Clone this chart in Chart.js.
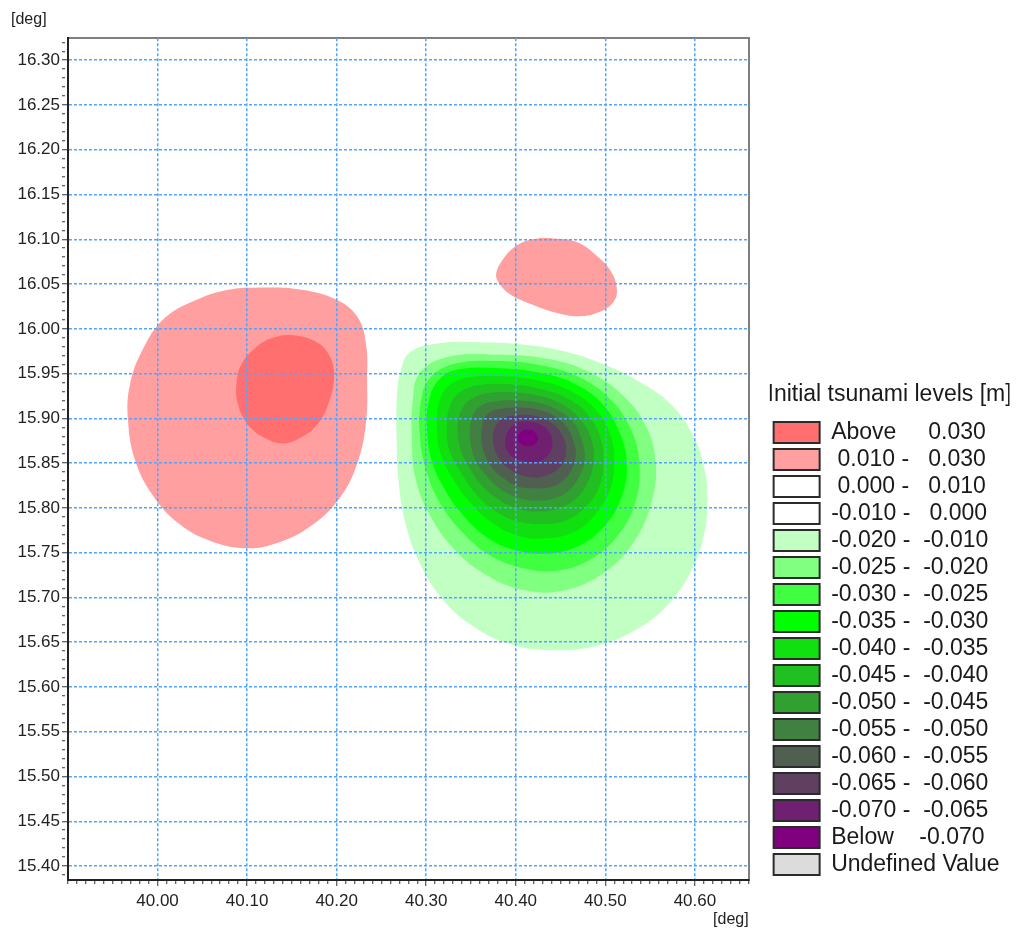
<!DOCTYPE html>
<html>
<head>
<meta charset="utf-8">
<title>Initial tsunami levels</title>
<script src="https://cdn.jsdelivr.net/npm/chart.js@4.4.1/dist/chart.umd.min.js"></script>
<style>
  html, body { margin: 0; padding: 0; background: #fff; }
  #chartBox { width: 1027px; height: 932px; }
</style>
</head>
<body>
<div id="chartBox"><canvas id="levelChart"></canvas></div>
<script>
'use strict';

// legend classes, top to bottom
let levelLabels = [
  'Above     0.030',
  ' 0.010 -   0.030',
  ' 0.000 -   0.010',
  '-0.010 -   0.000',
  '-0.020 -  -0.010',
  '-0.025 -  -0.020',
  '-0.030 -  -0.025',
  '-0.035 -  -0.030',
  '-0.040 -  -0.035',
  '-0.045 -  -0.040',
  '-0.050 -  -0.045',
  '-0.055 -  -0.050',
  '-0.060 -  -0.055',
  '-0.065 -  -0.060',
  '-0.070 -  -0.065',
  'Below    -0.070',
  'Undefined Value'
];
let levelColors = [
  '#ff6f6f', '#ff9f9f', '#ffffff', '#ffffff', '#c2ffc2', '#80ff80', '#40ff40', '#00ff00',
  '#10e010', '#20c020', '#30a030', '#408040', '#506050', '#604060', '#702070', '#800080', '#dcdcdc'
];

let xTickLabels = ['40.00', '40.10', '40.20', '40.30', '40.40', '40.50', '40.60'];
let yTickLabels = ['15.40', '15.45', '15.50', '15.55', '15.60', '15.65', '15.70', '15.75', '15.80',
  '15.85', '15.90', '15.95', '16.00', '16.05', '16.10', '16.15', '16.20', '16.25', '16.30'];

// contour outlines [lon, lat]; each one is filled with the colour of the class inside it
let posWest010 = [[40.109,16.046],[40.159,16.044],[40.201,16.032],[40.224,16.012],[40.233,15.981],[40.234,15.942],
  [40.233,15.898],[40.224,15.853],[40.204,15.812],[40.170,15.779],[40.131,15.760],[40.098,15.755],[40.059,15.763],
  [40.023,15.783],[39.994,15.815],[39.975,15.853],[39.967,15.898],[39.969,15.937],[39.983,15.976],[40.008,16.012],
  [40.047,16.034],[40.081,16.044]];
let posWest030 = [[40.148,15.993],[40.176,15.986],[40.192,15.970],[40.197,15.948],[40.192,15.920],[40.179,15.894],
  [40.159,15.878],[40.140,15.872],[40.120,15.878],[40.101,15.893],[40.090,15.915],[40.088,15.937],[40.094,15.961],
  [40.112,15.981],[40.129,15.990]];
let posNorth010 = [[40.378,16.061],[40.386,16.078],[40.401,16.093],[40.419,16.100],[40.442,16.101],[40.468,16.097],
  [40.490,16.082],[40.507,16.063],[40.513,16.043],[40.509,16.030],[40.494,16.019],[40.471,16.014],[40.445,16.018],
  [40.416,16.028],[40.393,16.039],[40.382,16.050]];

let neg010 = [[40.315,15.984],[40.360,15.985],[40.402,15.983],[40.449,15.976],[40.494,15.962],[40.538,15.941],
  [40.574,15.915],[40.599,15.879],[40.611,15.842],[40.614,15.808],[40.610,15.769],[40.596,15.730],[40.572,15.694],
  [40.538,15.666],[40.494,15.647],[40.444,15.641],[40.393,15.648],[40.349,15.670],[40.315,15.702],[40.291,15.742],
  [40.276,15.786],[40.269,15.831],[40.267,15.875],[40.267,15.920],[40.271,15.951],[40.282,15.974]];
let neg020 = [[40.326,15.969],[40.382,15.971],[40.432,15.967],[40.477,15.954],[40.516,15.929],[40.544,15.894],
  [40.556,15.853],[40.552,15.808],[40.533,15.764],[40.499,15.728],[40.455,15.708],[40.410,15.708],[40.369,15.724],
  [40.332,15.753],[40.304,15.792],[40.288,15.833],[40.284,15.875],[40.285,15.920],[40.293,15.951]];
let neg025 = [[40.332,15.961],[40.382,15.964],[40.429,15.959],[40.471,15.946],[40.505,15.922],[40.528,15.889],
  [40.538,15.850],[40.534,15.808],[40.516,15.772],[40.486,15.744],[40.447,15.730],[40.407,15.733],[40.371,15.747],
  [40.340,15.773],[40.315,15.806],[40.300,15.842],[40.293,15.879],[40.294,15.918],[40.304,15.945]];
let neg030 = [[40.338,15.955],[40.382,15.956],[40.427,15.951],[40.465,15.939],[40.496,15.917],[40.516,15.884],
  [40.524,15.848],[40.518,15.812],[40.500,15.781],[40.471,15.758],[40.436,15.749],[40.399,15.753],[40.368,15.767],
  [40.341,15.792],[40.320,15.822],[40.306,15.853],[40.301,15.887],[40.303,15.920],[40.315,15.944]];
let neg035 = [[40.349,15.946],[40.388,15.947],[40.427,15.942],[40.460,15.931],[40.488,15.911],[40.505,15.883],
  [40.510,15.851],[40.505,15.820],[40.489,15.793],[40.465,15.773],[40.433,15.766],[40.402,15.769],[40.374,15.783],
  [40.350,15.805],[40.330,15.832],[40.316,15.861],[40.312,15.890],[40.315,15.920],[40.327,15.938]];
let neg040 = [[40.358,15.937],[40.393,15.938],[40.427,15.933],[40.456,15.923],[40.479,15.906],[40.494,15.880],
  [40.498,15.851],[40.493,15.823],[40.478,15.801],[40.456,15.786],[40.429,15.782],[40.401,15.785],[40.378,15.796],
  [40.356,15.815],[40.339,15.839],[40.326,15.864],[40.323,15.890],[40.327,15.916],[40.339,15.930]];
let neg045 = [[40.368,15.928],[40.398,15.929],[40.427,15.925],[40.451,15.916],[40.471,15.900],[40.484,15.878],
  [40.487,15.853],[40.481,15.830],[40.468,15.811],[40.449,15.800],[40.425,15.796],[40.400,15.800],[40.380,15.810],
  [40.362,15.825],[40.348,15.845],[40.338,15.867],[40.335,15.889],[40.340,15.911],[40.351,15.922]];
let neg050 = [[40.378,15.919],[40.402,15.920],[40.427,15.917],[40.447,15.909],[40.464,15.896],[40.474,15.875],
  [40.477,15.854],[40.471,15.835],[40.460,15.820],[40.444,15.811],[40.422,15.808],[40.401,15.812],[40.383,15.821],
  [40.369,15.834],[40.356,15.851],[40.350,15.869],[40.349,15.889],[40.353,15.906],[40.363,15.915]];
let neg055 = [[40.387,15.911],[40.407,15.912],[40.427,15.909],[40.444,15.902],[40.457,15.890],[40.465,15.873],
  [40.467,15.858],[40.462,15.842],[40.452,15.830],[40.438,15.823],[40.420,15.822],[40.402,15.824],[40.388,15.832],
  [40.375,15.843],[40.366,15.858],[40.362,15.872],[40.362,15.889],[40.366,15.902],[40.375,15.909]];
let neg060 = [[40.396,15.903],[40.412,15.904],[40.428,15.901],[40.441,15.894],[40.451,15.883],[40.456,15.870],
  [40.455,15.856],[40.449,15.845],[40.439,15.838],[40.426,15.834],[40.411,15.835],[40.398,15.840],[40.387,15.848],
  [40.379,15.859],[40.375,15.871],[40.375,15.884],[40.380,15.896],[40.388,15.901]];
let neg065 = [[40.404,15.896],[40.418,15.896],[40.430,15.892],[40.438,15.884],[40.441,15.874],[40.439,15.863],
  [40.432,15.855],[40.421,15.851],[40.409,15.852],[40.398,15.856],[40.390,15.864],[40.388,15.875],[40.391,15.885],
  [40.397,15.892]];
let neg070 = [[40.409,15.887],[40.418,15.887],[40.423,15.882],[40.425,15.877],[40.421,15.871],[40.413,15.869],
  [40.406,15.871],[40.402,15.877],[40.403,15.882]];

// outer shapes first, inner ones are drawn over them
let contourShapes = [posWest010, posWest030, posNorth010, neg010, neg020, neg025, neg030, neg035,
  neg040, neg045, neg050, neg055, neg060, neg065, neg070];
let contourLevels = [1, 0, 1, 4, 5, 6, 7, 8, 9, 10, 11, 12, 13, 14, 15];

let gridBlue = '#52a4ff';

Chart.defaults.font.family = 'Arial, "Liberation Sans", sans-serif';

function closeLoop(points) {
  // repeat the end points so the spline runs smoothly through the seam
  let pts = points.map(p => ({ x: p[0], y: p[1] }));
  return [pts[pts.length - 1], ...pts, pts[0], pts[1]];
}

function isLabelled(labels, value) {
  return labels.includes(value.toFixed(2));
}

let contourDatasets = contourShapes.map((shape, i) => ({
  data: closeLoop(shape),
  showLine: true,
  fill: 'shape',
  backgroundColor: levelColors[contourLevels[i]],
  borderWidth: 0,
  pointRadius: 0,
  pointHoverRadius: 0,
  tension: 0.4,
  order: contourShapes.length - i
}));

function axisGrid(labels) {
  // dotted lines only at labelled values; minor ticks every 0.01 are cut short with a dash
  return {
    z: 1,
    color: (ctx) => (ctx.tick && isLabelled(labels, ctx.tick.value)) ? gridBlue : 'rgba(0,0,0,0)',
    lineWidth: 1.5,
    tickColor: '#333',
    tickWidth: 1,
    tickLength: 6,
    tickBorderDash: (ctx) => (ctx.tick && isLabelled(labels, ctx.tick.value)) ? [] : [3, 20]
  };
}

const config = {
  type: 'scatter',
  data: { datasets: contourDatasets },
  options: {
    responsive: true,
    maintainAspectRatio: false,
    animation: false,
    events: [],
    layout: { padding: { left: 11, right: 17.5, top: 0, bottom: 0 } },
    scales: {
      x: {
        type: 'linear',
        min: 39.90,
        max: 40.66,
        afterFit: (scale) => { scale.height = 52; },
        ticks: {
          stepSize: 0.01,
          autoSkip: false,
          maxRotation: 0,
          includeBounds: false,
          padding: 5,
          color: '#222',
          font: { size: 17 },
          callback: (value) => isLabelled(xTickLabels, value) ? value.toFixed(2) : ''
        },
        grid: axisGrid(xTickLabels),
        border: { color: '#222', width: 2, dash: [3, 2], z: 1 },
        title: {
          display: true,
          text: '[deg]',
          align: 'end',
          color: '#222',
          font: { size: 16 },
          padding: { top: 0, bottom: 3 }
        }
      },
      y: {
        type: 'linear',
        min: 15.3844,
        max: 16.3246,
        afterFit: (scale) => { scale.width = 57; },
        ticks: {
          stepSize: 0.01,
          autoSkip: false,
          includeBounds: false,
          padding: 2,
          color: '#222',
          font: { size: 17 },
          callback: (value) => isLabelled(yTickLabels, value) ? value.toFixed(2) : ''
        },
        grid: axisGrid(yTickLabels),
        border: { color: '#222', width: 2, dash: [3, 2], z: 1 }
      },
      // plain frame lines on the top and right
      x2: {
        type: 'linear',
        position: 'top',
        afterFit: (scale) => { scale.height = 0; },
        ticks: { display: false },
        grid: { display: false, drawTicks: false },
        border: { color: '#7f7f7f', width: 2 }
      },
      y2: {
        type: 'linear',
        position: 'right',
        afterFit: (scale) => { scale.width = 21; },
        ticks: { display: false },
        grid: { display: false, drawTicks: false },
        border: { color: '#7f7f7f', width: 2 }
      }
    },
    plugins: {
      title: {
        display: true,
        text: '[deg]',
        align: 'start',
        color: '#222',
        font: { size: 16, weight: 'normal' },
        padding: { top: 10, bottom: 9 }
      },
      tooltip: { enabled: false },
      legend: {
        position: 'right',
        align: 'end',
        fullSize: false,
        maxWidth: 280,
        title: {
          display: true,
          text: 'Initial tsunami levels [m]',
          color: '#1a1a1a',
          font: { size: 23 },
          padding: { top: 0, bottom: 6 }
        },
        labels: {
          boxWidth: 46,
          boxHeight: 21,
          padding: 4,
          color: '#1a1a1a',
          font: { size: 23 },
          generateLabels: () => levelLabels.map((text, i) => ({
            text: text,
            fillStyle: levelColors[i],
            strokeStyle: '#2b2b2b',
            lineWidth: 2,
            hidden: false
          }))
        }
      }
    }
  }
};

const levelChart = new Chart(document.getElementById('levelChart'), config);
</script>
</body>
</html>
